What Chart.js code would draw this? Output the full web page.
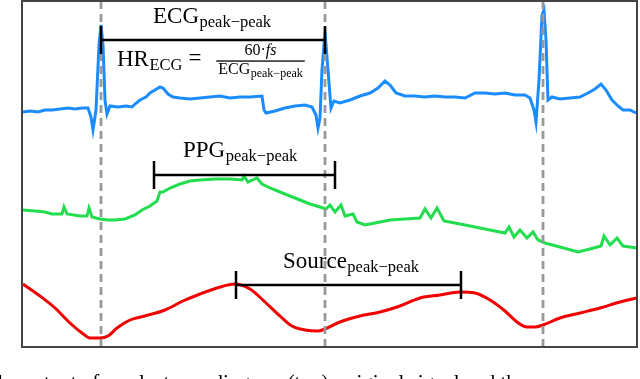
<!DOCTYPE html>
<html>
<head>
<meta charset="utf-8">
<script src="https://cdn.jsdelivr.net/npm/chart.js@4.4.1/dist/chart.umd.min.js"></script>
<style>
  html, body { margin: 0; padding: 0; background: #fff; }
  #wrap { width: 640px; height: 379px; }
</style>
</head>
<body>
<div id="wrap"><canvas id="chart" width="640" height="379"></canvas></div>
<script>
// time in samples, amplitude in arbitrary units (the three traces are stacked)
const ecgT = [1, 8, 16, 23, 30, 38, 46, 53, 60, 66, 69, 71, 74, 77, 79, 81, 83, 85, 88, 96, 104, 110, 113, 118, 124, 128, 133, 138, 141, 146, 151, 158, 168, 178, 188, 198, 208, 218, 228, 240, 242, 244, 253, 263, 273, 283, 290, 294, 296, 298, 300, 303, 306, 309, 312, 318, 328, 338, 348, 356, 363, 368, 374, 383, 393, 403, 413, 423, 433, 443, 453, 463, 473, 483, 493, 503, 508, 512, 514, 517, 520, 522, 524, 526, 530, 538, 548, 558, 566, 573, 579, 584, 590, 596, 601, 608, 614];
const ecgV = [235, 236, 235, 237, 237, 238, 239, 238, 239, 239, 230, 217, 237, 302, 322, 302, 247, 233, 241, 240, 241, 240, 243, 247, 250, 254, 257, 260, 259, 253, 250, 249, 248, 249, 250, 251, 249, 250, 250, 251, 237, 234, 236, 239, 241, 242, 240, 232, 219, 229, 277, 315, 277, 239, 246, 244, 247, 251, 254, 259, 266, 262, 254, 251, 251, 250, 251, 250, 250, 249, 254, 254, 253, 254, 252, 252, 249, 237, 225, 267, 332, 337, 307, 247, 250, 248, 249, 250, 254, 258, 263, 257, 247, 241, 237, 237, 234];

const ppgT = [1, 13, 23, 30, 40, 42, 45, 58, 65, 67, 70, 78, 86, 93, 103, 113, 120, 128, 135, 138, 141, 148, 158, 168, 178, 193, 208, 220, 222, 226, 235, 240, 248, 258, 268, 278, 288, 298, 304, 308, 313, 319, 323, 331, 335, 343, 353, 368, 383, 398, 403, 409, 415, 422, 433, 448, 463, 483, 487, 492, 498, 505, 511, 516, 523, 538, 556, 568, 579, 582, 588, 595, 601, 615];
const ppgV = [137, 136, 135, 133, 133, 140, 133, 131, 131, 139, 130, 128, 127, 127, 128, 132, 137, 141, 146, 155, 155, 159, 163, 166, 167, 168, 168, 167, 171, 165, 169, 163, 159, 155, 151, 147, 143, 140, 138, 142, 135, 142, 131, 133, 125, 122, 124, 127, 128, 129, 138, 129, 139, 126, 124, 121, 118, 114, 120, 110, 117, 109, 115, 107, 104, 100, 95, 98, 101, 111, 102, 109, 101, 99];

const srcT = [1, 18, 33, 48, 60, 68, 78, 86, 95, 108, 123, 143, 161, 178, 195, 213, 228, 243, 258, 270, 283, 296, 303, 318, 338, 358, 378, 398, 418, 438, 453, 468, 483, 495, 505, 513, 521, 538, 558, 578, 598, 615];
const srcV = [63, 51, 39, 24, 14, 9, 9, 11, 19, 27, 31, 37, 46, 53, 59, 63, 58, 45, 31, 21, 17, 16, 18, 25, 31, 35, 41, 49, 52, 55, 54, 47, 36, 25, 20, 20, 22, 29, 34, 39, 45, 49];

// R-peak times (dashed markers)
const beatTimes = [79, 303, 521];

// peak-to-peak spans: [start, end], level
const peakNames = ['ECG', 'PPG', 'Source'];
const spanStart = [79, 132, 214];
const spanEnd = [303, 313, 439];
const spanLevel = [307, 172, 62];

const colors = { ecg: '#1a8cff', ppg: '#22dd4d', src: '#f00000' };
const tickHalf = 14;
const serif = '"Liberation Serif", "DejaVu Serif", serif';
const SUB = 'peak\u2212peak';

const toPts = (t, v) => t.map((tt, i) => ({ x: tt, y: v[i] }));

const dashedPts = [];
beatTimes.forEach(t => {
  dashedPts.push({ x: t, y: 0 }, { x: t, y: 346 }, { x: t, y: null });
});

const bracketSets = peakNames.map((name, i) => ({
  label: name + ' span',
  data: [
    { x: spanStart[i], y: spanLevel[i] - tickHalf }, { x: spanStart[i], y: spanLevel[i] + tickHalf },
    { x: spanStart[i], y: null },
    { x: spanStart[i], y: spanLevel[i] }, { x: spanEnd[i], y: spanLevel[i] },
    { x: spanEnd[i], y: null },
    { x: spanEnd[i], y: spanLevel[i] - tickHalf }, { x: spanEnd[i], y: spanLevel[i] + tickHalf }
  ],
  borderColor: '#000',
  borderWidth: 2.5,
  pointRadius: 0,
  spanGaps: false,
  order: 0
}));

// label anchors: left edge (t) and baseline (v)
const labelPos = [
  { t: 131, v: 324 },
  { t: 161, v: 190 },
  { t: 261, v: 79 }
];

function drawSub(ctx, x, y, main, sub, mainSize, subSize, drop) {
  ctx.font = mainSize + 'px ' + serif;
  ctx.fillText(main, x, y);
  const w = ctx.measureText(main).width;
  ctx.font = subSize + 'px ' + serif;
  ctx.fillText(sub, x + w + 0.5, y + drop);
  return w + 0.5 + ctx.measureText(sub).width;
}

const textPlugin = {
  id: 'texts',
  afterDraw(chart) {
    const { ctx, chartArea: a, scales: { x, y } } = chart;
    ctx.save();
    ctx.strokeStyle = '#444';
    ctx.lineWidth = 2;
    ctx.strokeRect(a.left, a.top, a.right - a.left, a.bottom - a.top);

    ctx.fillStyle = '#000';
    ctx.textBaseline = 'alphabetic';
    ctx.textAlign = 'left';
    peakNames.forEach((name, i) => {
      drawSub(ctx, x.getPixelForValue(labelPos[i].t), y.getPixelForValue(labelPos[i].v),
        name, SUB, 23, 16.5, 3.5);
    });

    // HR formula
    let cx = x.getPixelForValue(95);
    const by = y.getPixelForValue(281);
    cx += drawSub(ctx, cx, by, 'HR', 'ECG', 23, 16.5, 3.5);
    ctx.font = '23px ' + serif;
    ctx.fillText('=', cx + 6, by - 1);

    const fc = x.getPixelForValue(238.5);
    const barY = y.getPixelForValue(286);
    ctx.font = '16px ' + serif;
    const dw1 = ctx.measureText('ECG').width;
    ctx.font = '12px ' + serif;
    const dw = dw1 + 0.5 + ctx.measureText(SUB).width;
    drawSub(ctx, fc - dw / 2, barY + 12.5, 'ECG', SUB, 16, 12, 3);
    ctx.fillRect(fc - dw / 2 - 2, barY - 0.6, dw + 4, 1.3);

    const n1 = '60\u00b7';
    ctx.font = '16px ' + serif;
    const wn1 = ctx.measureText(n1).width;
    ctx.font = 'italic 16px ' + serif;
    const wn = wn1 + ctx.measureText('fs').width;
    ctx.font = '16px ' + serif;
    ctx.fillText(n1, fc - wn / 2, barY - 6);
    ctx.font = 'italic 16px ' + serif;
    ctx.fillText('fs', fc - wn / 2 + wn1, barY - 6);

    // caption (cut off at the bottom)
    ctx.font = '21px ' + serif;
    ctx.fillText('the output of an electrocardiogram (top), original signal and the', -8, 389);
    ctx.restore();
  }
};

new Chart(document.getElementById('chart'), {
  type: 'line',
  data: {
    datasets: [
      ...bracketSets,
      { label: 'beats', data: dashedPts, borderColor: '#999', borderWidth: 2.8, borderDash: [8, 5], pointRadius: 0, spanGaps: false, order: 1 },
      { label: 'ECG', data: toPts(ecgT, ecgV), borderColor: colors.ecg, borderWidth: 3, pointRadius: 0, tension: 0, order: 2 },
      { label: 'PPG', data: toPts(ppgT, ppgV), borderColor: colors.ppg, borderWidth: 3, pointRadius: 0, tension: 0, order: 2 },
      { label: 'Source', data: toPts(srcT, srcV), borderColor: colors.src, borderWidth: 3, pointRadius: 0, cubicInterpolationMode: 'monotone', order: 2 }
    ]
  },
  options: {
    responsive: false,
    animation: false,
    layout: { padding: { left: 22, top: 1, right: 3, bottom: 32 } },
    scales: {
      x: { type: 'linear', min: 0, max: 615, display: false },
      y: { type: 'linear', min: 0, max: 346, display: false }
    },
    plugins: { legend: { display: false }, tooltip: { enabled: false } }
  },
  plugins: [textPlugin]
});
</script>
</body>
</html>
